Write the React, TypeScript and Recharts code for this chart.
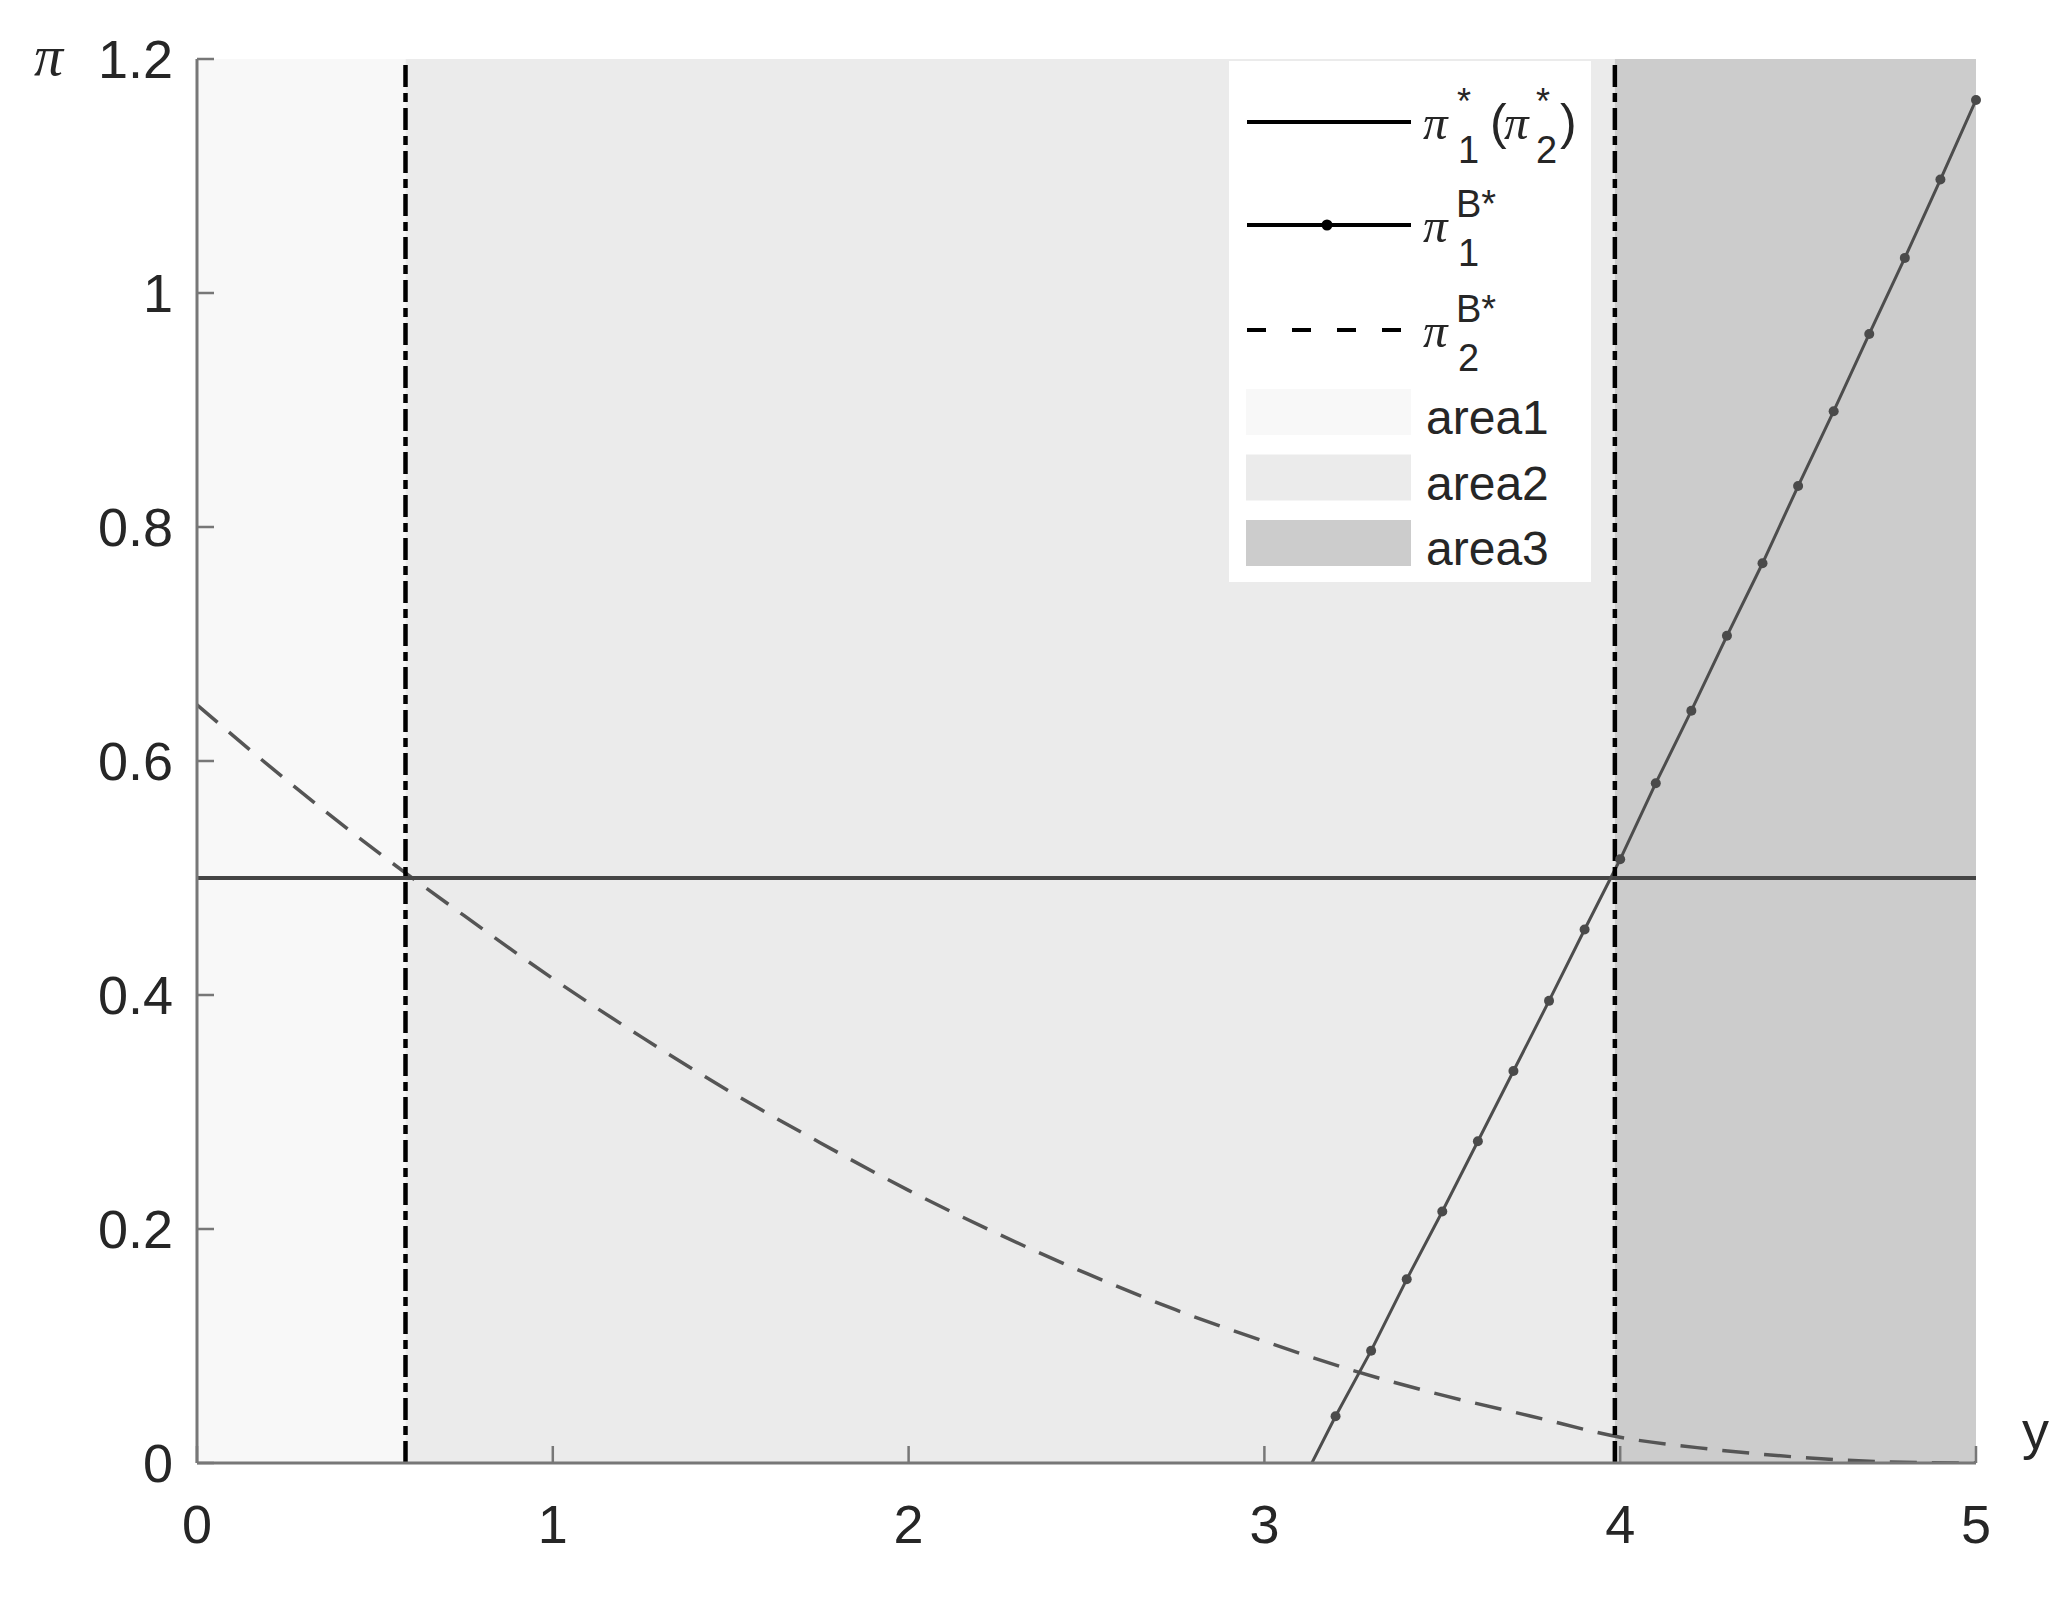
import React from 'react'
import { LineChart, Line, XAxis, YAxis, ReferenceArea, ReferenceLine, Legend } from 'recharts'

const xTicks = [0, 1, 2, 3, 4, 5]
const yTicks = [0, 0.2, 0.4, 0.6, 0.8, 1, 1.2]

// π1* (π2*) — flat line
const flatX = [0, 5]
const flatPi = [0.5, 0.5]

// π1^B* — rises from y≈3.13, markers every 0.1
const bankX = [3.1, 3.2, 3.3, 3.4, 3.5, 3.6, 3.7, 3.8, 3.9, 4.0, 4.1, 4.2, 4.3, 4.4, 4.5, 4.6, 4.7, 4.8, 4.9, 5.0]
const bankPi = [-0.02, 0.04, 0.096, 0.157, 0.215, 0.275, 0.335, 0.395, 0.456, 0.516, 0.581, 0.643, 0.707, 0.769, 0.835, 0.899, 0.965, 1.03, 1.097, 1.165]

// π2^B* — dashed, falling
const dashX = [0, 0.25, 0.5, 0.75, 1, 1.25, 1.5, 1.75, 2, 2.25, 2.5, 2.75, 3, 3.25, 3.5, 3.75, 4, 4.25, 4.5, 4.75, 5]
const dashPi = [0.648, 0.584, 0.524, 0.468, 0.414, 0.364, 0.317, 0.274, 0.233, 0.196, 0.162, 0.131, 0.104, 0.079, 0.058, 0.04, 0.022, 0.012, 0.005, 0.001, 0]

// shaded regions and the two boundary lines
const areaBounds = [0, 0.586, 3.985, 5]
const areaNames = ['area1', 'area2', 'area3']
const areaFills = ['#f8f8f8', '#ebebeb', '#cccccc']
const cutoffs = [0.586, 3.985]

const toRows = (xs: number[], ys: number[]) => xs.map((x, i) => ({ x, v: ys[i] }))

const axisColor = '#777777'
const textColor = '#262626'
const sans = 'Liberation Sans, Arial, sans-serif'
const greek = 'Liberation Serif, Times New Roman, serif'

const BankDot = (props: any) => {
  const { cx, cy, value, index } = props
  if (value < 0) return <g key={`bd${index}`} />
  return <circle key={`bd${index}`} cx={cx} cy={cy} r={5} fill="#4a4a4a" />
}

// legend row centre lines (relative to legend box)
const rowY = [61, 164, 269]

const Pi = ({ x, y }: { x: number; y: number }) => (
  <text x={x} y={y} fontFamily={greek} fontStyle="italic" fontSize={49} fill={textColor}>π</text>
)

const renderLegend = () => (
  <div style={{ width: 362, height: 521, background: '#fff' }}>
    <svg width={362} height={521}>
      {/* row 1 */}
      <line x1={18} x2={182} y1={rowY[0]} y2={rowY[0]} stroke="#000" strokeWidth={4} />
      <Pi x={194} y={rowY[0] + 17} />
      <text x={228} y={rowY[0] - 8} fontFamily={sans} fontSize={36} fill={textColor}>*</text>
      <text x={229} y={rowY[0] + 41} fontFamily={sans} fontSize={38} fill={textColor}>1</text>
      <text x={261} y={rowY[0] + 17} fontFamily={sans} fontSize={50} fill={textColor}>(</text>
      <Pi x={275} y={rowY[0] + 17} />
      <text x={307} y={rowY[0] - 8} fontFamily={sans} fontSize={36} fill={textColor}>*</text>
      <text x={307} y={rowY[0] + 41} fontFamily={sans} fontSize={38} fill={textColor}>2</text>
      <text x={331} y={rowY[0] + 17} fontFamily={sans} fontSize={50} fill={textColor}>)</text>
      {/* row 2 */}
      <line x1={18} x2={182} y1={rowY[1]} y2={rowY[1]} stroke="#000" strokeWidth={4} />
      <circle cx={98} cy={rowY[1]} r={5.5} fill="#000" />
      <Pi x={194} y={rowY[1] + 17} />
      <text x={227} y={rowY[1] - 8} fontFamily={sans} fontSize={38} fill={textColor}>B*</text>
      <text x={229} y={rowY[1] + 41} fontFamily={sans} fontSize={38} fill={textColor}>1</text>
      {/* row 3 */}
      <line x1={18} x2={182} y1={rowY[2]} y2={rowY[2]} stroke="#000" strokeWidth={4} strokeDasharray="19 26" />
      <Pi x={194} y={rowY[2] + 17} />
      <text x={227} y={rowY[2] - 8} fontFamily={sans} fontSize={38} fill={textColor}>B*</text>
      <text x={229} y={rowY[2] + 41} fontFamily={sans} fontSize={38} fill={textColor}>2</text>
      {/* area swatches */}
      {areaNames.map((name, i) => (
        <g key={name}>
          <rect x={17} y={328 + i * 65.5} width={165} height={46} fill={areaFills[i]} />
          <text x={197} y={373 + i * 65.5} fontFamily={sans} fontSize={48} fill={textColor}>{name}</text>
        </g>
      ))}
    </svg>
  </div>
)

const PiLabel = (props: any) => {
  const vb = props.viewBox || { x: 137, y: 59 }
  return (
    <text x={vb.x - 103} y={vb.y + 16} fontFamily={greek} fontStyle="italic" fontSize={58} fill={textColor}>π</text>
  )
}

const YLabel = (props: any) => {
  const vb = props.viewBox || { x: 197, y: 1463, width: 1779 }
  return (
    <text x={vb.x + vb.width + 46} y={vb.y - 14} fontFamily={sans} fontSize={54} fill={textColor}>y</text>
  )
}

export default function App() {
  const tickStyle = { fill: textColor, fontSize: 54, fontFamily: sans }
  return (
    <div style={{ position: 'absolute', left: 0, top: 0, background: '#fff' }}>
      <LineChart width={2070} height={1597} margin={{ top: 59, right: 94, bottom: 74, left: 137 }}>
        <XAxis dataKey="x" type="number" domain={[0, 5]} ticks={xTicks} height={60}
          tick={tickStyle} tickSize={-17} tickMargin={59}
          axisLine={{ stroke: axisColor, strokeWidth: 3 }} tickLine={{ stroke: axisColor, strokeWidth: 2.5 }}
          label={{ value: 'y', content: YLabel }} />
        <XAxis xAxisId="t" orientation="top" type="number" domain={[0, 5]} ticks={xTicks} height={0}
          tick={false} tickSize={-17}
          axisLine={{ stroke: axisColor, strokeWidth: 3 }} tickLine={{ stroke: axisColor, strokeWidth: 2.5 }} />
        <YAxis type="number" domain={[0, 1.2]} ticks={yTicks} allowDataOverflow width={60}
          tick={tickStyle} tickSize={-17} tickMargin={41}
          axisLine={{ stroke: axisColor, strokeWidth: 3 }} tickLine={{ stroke: axisColor, strokeWidth: 2.5 }}
          label={{ value: 'π', content: PiLabel }} />
        <YAxis yAxisId="r" orientation="right" type="number" domain={[0, 1.2]} ticks={yTicks} width={0}
          tick={false} tickSize={-17}
          axisLine={{ stroke: axisColor, strokeWidth: 3 }} tickLine={{ stroke: axisColor, strokeWidth: 2.5 }} />

        {areaNames.map((name, i) => (
          <ReferenceArea key={name} x1={areaBounds[i]} x2={areaBounds[i + 1]} fill={areaFills[i]} fillOpacity={1} stroke="none" />
        ))}

        <Line data={toRows(dashX, dashPi)} dataKey="v" type="monotone" stroke="#555555" strokeWidth={3.5}
          strokeDasharray="27 15" dot={false} isAnimationActive={false} />
        <Line data={toRows(flatX, flatPi)} dataKey="v" type="linear" stroke="#454545" strokeWidth={4}
          dot={false} isAnimationActive={false} />
        <Line data={toRows(bankX, bankPi)} dataKey="v" type="linear" stroke="#4d4d4d" strokeWidth={3}
          dot={BankDot} activeDot={false} isAnimationActive={false} />

        {cutoffs.map(c => (
          <ReferenceLine key={c} x={c} stroke="#000" strokeWidth={4.5} strokeDasharray="22 6 9 6" />
        ))}

        <Legend layout="vertical" align="center" verticalAlign="middle" content={renderLegend}
          wrapperStyle={{ left: 1229, top: 61, width: 362, height: 521 }} />
      </LineChart>
    </div>
  )
}
